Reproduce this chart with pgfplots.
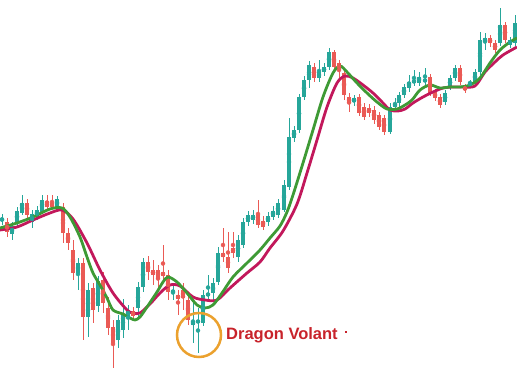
\documentclass[border=0pt]{standalone}
\usepackage{pgfplots}
\usepackage{pgfplotstable}
\pgfplotsset{compat=1.18}
\usepackage{fontspec}
\setmainfont{Liberation Sans}
\definecolor{cteal}{HTML}{26A69A}
\definecolor{cred}{HTML}{EA5A55}
\definecolor{cgreen}{HTML}{3E9A35}
\definecolor{ccrim}{HTML}{C2185B}
\definecolor{corange}{HTML}{EBA12E}
\definecolor{ctext}{HTML}{C8232B}

% pixel-space readings: x, body top, body bottom, wick top, wick bottom
\pgfplotstableread{
x bt bb wt wb
2 218 221 214 225
12 226 234 222 240
17 211 223 207 226
22 203 213 195 215
32 214 222 210 228
37 210 217 206 220
42 200 212 195 214
57 199 207 196 210
78 263 273 258 290
88 290 317 283 337
98 281 306 276 312
118 320 340 315 348
123 315 330 299 338
128 310 316 305 330
138 287 308 282 320
143 262 287 258 292
173 290 293 285 300
193 321 325 300 343
198 320 323 308 353
203 295 323 290 326
208 293 296 275 300
213 283 293 278 300
218 253 282 247 285
238 240 257 235 262
243 222 245 218 248
248 215 222 211 226
253 215 220 210 224
268 216 222 212 226
273 211 217 206 220
278 203 215 199 218
284 185 210 180 212
289 137 187 118 190
294 130 138 126 142
299 97 130 94 133
304 80 97 76 100
309 65 80 61 88
319 72 78 60 82
324 67 72 63 76
329 52 67 48 70
354 98 102 95 106
390 107 132 103 134
395 103 107 98 110
399 95 103 92 108
404 87 95 84 98
409 82 88 75 92
414 80 83 70 86
419 77 83 72 86
425 79 82 68 85
445 93 102 90 105
450 78 87 75 90
455 68 78 65 81
470 82 84 80 88
475 72 82 69 85
480 40 72 32 75
485 38 42 33 50
500 25 43 8 46
510 40 45 37 48
515 23 43 15 46
}\tealtab

\pgfplotstableread{
x bt bb wt wb
7 222 232 218 237
27 203 215 199 218
47 201 207 195 210
52 203 207 195 209
63 207 233 203 243
68 233 243 228 250
73 250 273 240 280
83 263 317 258 340
93 288 310 283 323
103 280 303 272 313
108 308 328 297 335
113 327 343 320 368
133 311 316 307 320
148 262 272 256 280
153 270 275 260 285
158 270 278 265 292
163 272 276 245 282
168 275 292 270 300
178 295 299 290 315
183 290 298 283 310
188 300 320 292 325
223 253 257 228 262
228 257 268 232 273
233 248 253 232 258
258 215 225 200 228
263 221 227 216 230
314 67 78 63 82
334 52 67 50 72
339 63 70 60 80
344 73 95 70 100
349 97 103 93 112
359 97 113 94 116
364 107 117 103 120
369 108 113 104 117
374 110 120 106 124
379 115 127 112 130
384 118 132 115 135
430 77 93 74 96
435 92 98 89 101
440 97 105 94 108
460 68 82 65 85
465 87 90 84 93
490 38 43 35 47
495 43 50 40 53
505 25 40 22 43
}\redtab

\begin{document}
\begin{tikzpicture}
\begin{axis}[
  scale only axis, width=517pt, height=374pt,
  xmin=0, xmax=517, ymin=0, ymax=374, y dir=reverse,
  hide axis, clip=true,
]
\path (rel axis cs:0,0) rectangle (rel axis cs:1,1);
% wicks
\addplot[cteal, only marks, mark=none,
  error bars/.cd, y dir=both, y explicit, error mark=none,
  error bar style={cteal, line width=1pt}]
  table[x=x, y expr={(\thisrow{wt}+\thisrow{wb})/2}, y error expr={(\thisrow{wb}-\thisrow{wt})/2}] {\tealtab};
\addplot[cred, only marks, mark=none,
  error bars/.cd, y dir=both, y explicit, error mark=none,
  error bar style={cred, line width=1pt}]
  table[x=x, y expr={(\thisrow{wt}+\thisrow{wb})/2}, y error expr={(\thisrow{wb}-\thisrow{wt})/2}] {\redtab};
% bodies
\addplot[cteal, only marks, mark=none,
  error bars/.cd, y dir=both, y explicit, error mark=none,
  error bar style={cteal, line width=4.2pt}]
  table[x=x, y expr={(\thisrow{bt}+\thisrow{bb})/2}, y error expr={(\thisrow{bb}-\thisrow{bt})/2}] {\tealtab};
\addplot[cred, only marks, mark=none,
  error bars/.cd, y dir=both, y explicit, error mark=none,
  error bar style={cred, line width=4.2pt}]
  table[x=x, y expr={(\thisrow{bt}+\thisrow{bb})/2}, y error expr={(\thisrow{bb}-\thisrow{bt})/2}] {\redtab};
% slow moving average
\addplot[ccrim, line width=2.8pt, smooth, tension=0.5, mark=none] coordinates {
(0,230)(17,227)(33,220)(50,213)(62,210)(73,219)(87,243)(100,270)(113,293)(127,310)(133,313)(140,313)(150,304)(160,293)(170,285)(180,286)(193,297)(205,300)(217,300)(230,288)(247,273)(260,262)(270,248)(283,231)(297,204)(307,173)(317,140)(327,107)(337,83)(345,76)(353,78)(363,85)(373,93)(383,103)(390,110)(398,111)(405,109)(413,103)(423,97)(433,92)(443,88)(453,87)(463,87)(475,86)(485,72)(495,62)(503,55)(517,47)
};
% fast moving average
\addplot[cgreen, line width=2.8pt, smooth, tension=0.5, mark=none] coordinates {
(0,228)(17,223)(33,217)(50,209)(62,208)(70,217)(80,237)(87,257)(93,273)(100,285)(107,298)(113,310)(123,314)(130,318)(135,320)(140,317)(147,307)(157,292)(163,282)(168,277)(177,282)(187,293)(197,305)(205,308)(213,305)(222,293)(233,277)(247,263)(260,250)(270,238)(280,226)(287,212)(293,195)(303,163)(313,130)(323,97)(333,73)(340,66)(347,72)(357,83)(367,93)(377,102)(387,109)(397,109)(405,105)(412,100)(420,90)(430,85)(440,88)(450,87)(460,87)(470,85)(480,78)(490,63)(500,50)(510,42)(517,38)
};
% annotation circle
\addplot[corange, only marks, mark=o, mark size=22pt, mark options={line width=2.5pt}] coordinates {(199,335)};
% small stray dot
\addplot[ctext, only marks, mark=square*, mark size=0.6pt] coordinates {(346,332)};
\node[anchor=base west, text=ctext, font=\bfseries\fontsize{16.5}{18}\selectfont, inner sep=0pt] at (axis cs:226,339) {Dragon Volant};
\end{axis}
\end{tikzpicture}
\end{document}
